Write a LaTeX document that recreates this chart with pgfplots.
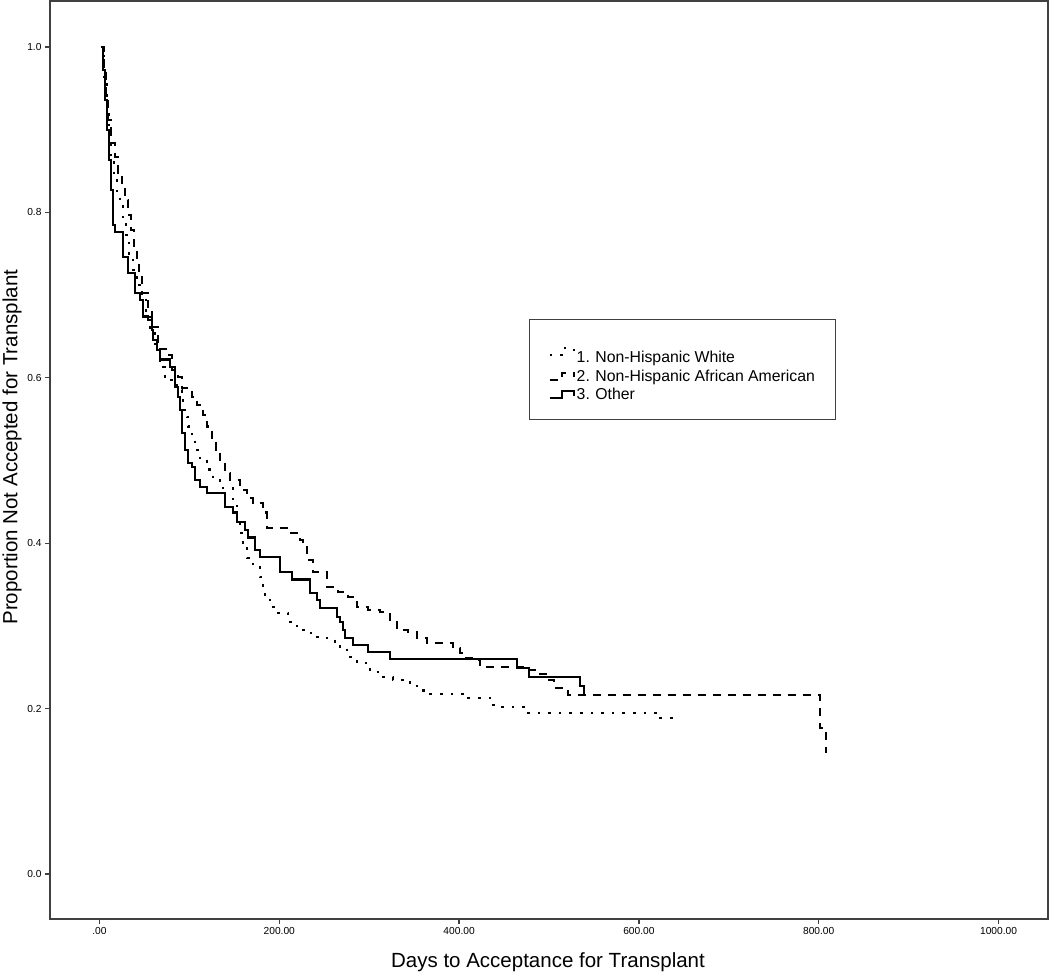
\documentclass[border=0pt]{standalone}
\usepackage{fontspec}
\setmainfont{Liberation Sans}
\usepackage{pgfplots}
\pgfplotsset{compat=1.18}
\pgfplotstableread{
d S
1.6 1.000
3.9 0.972
6.1 0.936
8.3 0.900
10.6 0.863
12.8 0.827
15.0 0.785
17.3 0.776
26.1 0.746
31.7 0.727
39.5 0.703
45.0 0.694
48.4 0.674
54.0 0.670
58.4 0.658
59.5 0.646
64.0 0.634
67.3 0.622
78.4 0.613
84.0 0.589
87.3 0.577
89.5 0.561
91.7 0.533
95.1 0.513
98.4 0.497
102.9 0.492
106.2 0.476
111.7 0.468
119.6 0.461
139.6 0.444
148.5 0.437
152.9 0.426
161.9 0.416
165.2 0.407
172.9 0.392
178.6 0.383
200.8 0.365
214.1 0.356
234.1 0.340
242.0 0.331
245.3 0.322
264.2 0.311
267.5 0.305
270.9 0.295
273.0 0.285
282.0 0.277
298.7 0.268
323.2 0.260
464.4 0.249
477.8 0.238
534.5 0.227
538.9 0.216
540.1 0.216
}\other
\pgfplotstableread{
d S
1.6 1.000
5.0 0.972
7.3 0.942
9.5 0.912
12.8 0.884
17.3 0.867
20.6 0.848
25.0 0.833
28.3 0.815
31.7 0.797
35.0 0.779
38.3 0.757
41.7 0.736
44.0 0.724
47.3 0.703
54.0 0.680
58.4 0.661
65.0 0.635
76.2 0.628
80.7 0.609
87.3 0.601
91.7 0.588
102.9 0.577
108.4 0.567
115.1 0.555
119.6 0.541
125.2 0.525
129.6 0.513
134.1 0.501
139.6 0.485
145.2 0.476
156.3 0.464
164.1 0.455
170.8 0.449
181.9 0.437
186.3 0.418
208.6 0.412
223.0 0.404
226.3 0.395
230.8 0.380
237.5 0.365
253.0 0.347
265.3 0.341
276.4 0.335
286.4 0.323
298.7 0.319
312.0 0.317
323.2 0.305
330.9 0.295
343.2 0.293
353.2 0.285
364.3 0.279
393.3 0.273
401.0 0.267
404.3 0.261
415.5 0.259
423.3 0.250
476.7 0.247
490.0 0.242
497.8 0.235
505.5 0.225
521.2 0.216
801.4 0.177
808.1 0.148
809.3 0.148
}\aa
\pgfplotstableread{
d S
1.6 1.000
5.0 0.960
8.3 0.924
10.6 0.894
12.8 0.869
16.1 0.845
19.5 0.821
22.8 0.809
26.1 0.791
29.5 0.773
32.8 0.748
37.3 0.730
41.7 0.712
47.3 0.698
51.7 0.676
56.2 0.658
61.7 0.637
67.3 0.613
72.9 0.597
86.2 0.585
91.7 0.577
92.9 0.561
97.4 0.553
98.4 0.541
102.9 0.528
106.2 0.513
111.7 0.501
119.6 0.489
126.2 0.476
134.1 0.467
148.5 0.449
152.9 0.428
156.3 0.412
159.6 0.395
164.1 0.382
170.8 0.371
178.6 0.359
181.9 0.343
184.1 0.335
189.6 0.323
198.6 0.316
209.7 0.305
219.7 0.295
230.8 0.291
242.0 0.287
253.0 0.285
262.0 0.281
267.5 0.273
275.3 0.262
286.4 0.255
300.9 0.244
312.0 0.238
326.5 0.235
337.6 0.232
345.4 0.227
356.6 0.222
367.6 0.218
409.9 0.213
434.3 0.204
440.0 0.202
473.3 0.195
623.5 0.189
641.3 0.185
642.4 0.185
}\white
\begin{document}
\begin{tikzpicture}
\begin{axis}[
  at={(50bp,53bp)}, anchor=south west,
  scale only axis, width=998bp, height=918bp,
  xmin=-55, xmax=1055, ymin=-0.0544, ymax=1.0556,
  axis line style={draw=black!75, line width=1.3bp},
  tick style={draw=black!75, line width=1.3bp},
  tick align=outside, major tick length=5bp, tick pos=left,
  xtick={0,200,400,600,800,1000},
  xticklabels={.00,200.00,400.00,600.00,800.00,1000.00},
  ytick={0,0.2,0.4,0.6,0.8,1.0},
  yticklabels={0.0,0.2,0.4,0.6,0.8,1.0},
  ticklabel style={font=\fontsize{10.2bp}{12bp}\selectfont},
  xlabel={Days to Acceptance for Transplant},
  ylabel={Proportion Not Accepted for Transplant},
  label style={font=\fontsize{20.5bp}{24bp}\selectfont},
  xlabel style={at={(axis description cs:0.499,-0.047)}, anchor=center},
  ylabel style={at={(axis description cs:-0.038,0.514)}, anchor=center},
  legend cell align=left,
  legend style={at={(axis description cs:0.48,0.6536)}, anchor=north west,
    draw=black!75, line width=1bp, fill=white, inner xsep=19bp, inner ysep=16bp,
    font=\fontsize{15.8bp}{18bp}\selectfont,
    nodes={inner ysep=2.75bp}, row sep=0pt},
  legend image code/.code={\draw[#1] (0bp,-3.5bp) -- (12bp,-3.5bp) -- (12bp,3.5bp) -- (24bp,3.5bp) -- (24bp,-1bp);},
]
\addplot[const plot, black, line width=2.2bp, dash pattern=on 2.6bp off 8bp] table[x=d,y=S]{\white};
\addlegendentry{\rule[-4bp]{0pt}{28.5bp}1.\hspace{0.35em}Non-Hispanic White}
\addplot[const plot, black, line width=2.2bp, dash pattern=on 8bp off 7bp] table[x=d,y=S]{\aa};
\addlegendentry{\rule[-4bp]{0pt}{15.5bp}2.\hspace{0.35em}Non-Hispanic African American}
\addplot[const plot, black, line width=2.2bp] table[x=d,y=S]{\other};
\addlegendentry{\rule[-4bp]{0pt}{15.5bp}3.\hspace{0.35em}Other}
\end{axis}
\pgfresetboundingbox
\useasboundingbox (0,0) rectangle (1050bp,972bp);
\end{tikzpicture}
\end{document}
